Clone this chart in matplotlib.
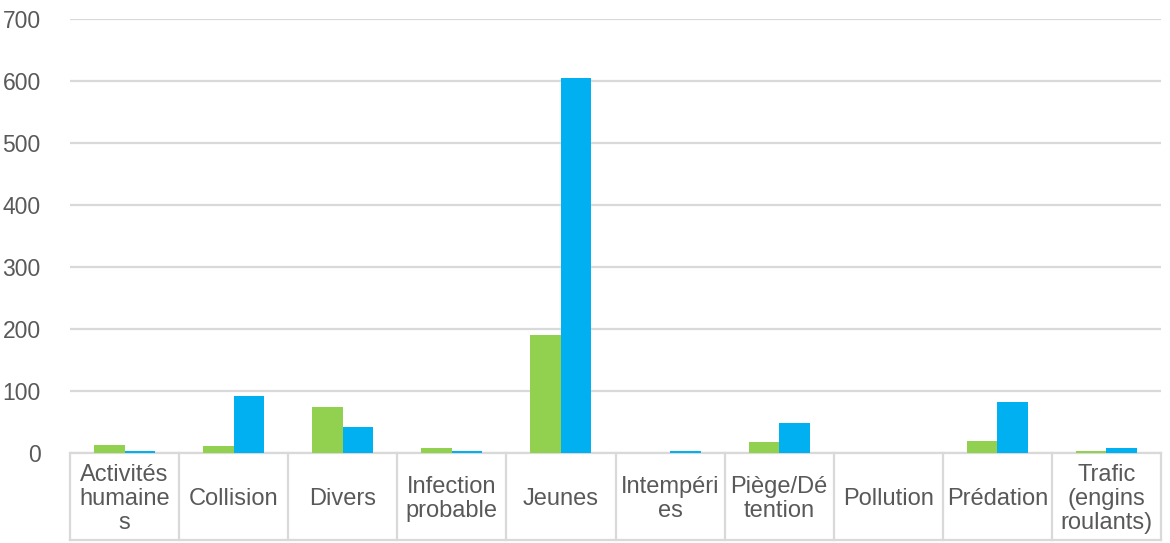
import matplotlib
matplotlib.use("Agg")
from matplotlib import pyplot as plt
import numpy as np

# categories as broken in the original chart
categories = [
    "Activités\nhumaine\ns",
    "Collision",
    "Divers",
    "Infection\nprobable",
    "Jeunes",
    "Intempéri\nes",
    "Piège/Dé\ntention",
    "Pollution",
    "Prédation",
    "Trafic\n(engins\nroulants)",
]
green_values = [13, 11, 74, 8, 190, 0, 18, 0, 20, 3]
blue_values = [3, 92, 42, 4, 605, 3, 49, 0, 83, 8]
y_ticks = [0, 100, 200, 300, 400, 500, 600, 700]

GREEN = "#92D050"
BLUE = "#00B0F0"
GRID = "#D9D9D9"
TEXT = "#595959"

plt.rcParams["font.family"] = ["Liberation Sans", "DejaVu Sans"]

W, H = 1170, 543
fig = plt.figure(figsize=(W / 100, H / 100), dpi=100)
left, right, top, bottom = 70, 1161, 19, 453
ax = fig.add_axes([left / W, 1 - bottom / H, (right - left) / W, (bottom - top) / H])

x = np.arange(len(categories)) + 0.5
bw = 0.28
ax.bar(x - bw / 2, green_values, width=bw, color=GREEN, zorder=3)
ax.bar(x + bw / 2, blue_values, width=bw, color=BLUE, zorder=3)

ax.set_xlim(0, len(categories))
ax.set_ylim(0, 700)
ax.set_yticks(y_ticks)
ax.set_yticklabels([str(v) for v in y_ticks], fontsize=16.5, color=TEXT)
ax.tick_params(axis="y", length=0, pad=21)
ax.set_xticks([])
ax.grid(axis="y", color=GRID, linewidth=1.6, zorder=0)
for side in ["top", "right", "left"]:
    ax.spines[side].set_visible(False)
ax.spines["bottom"].set_color(GRID)
ax.spines["bottom"].set_linewidth(1.6)

# category box below the axis
tr = ax.get_xaxis_transform()
box_bottom = -(540 - bottom) / (bottom - top)
for i in range(len(categories) + 1):
    ax.plot([i, i], [0, box_bottom], color=GRID, linewidth=1.6,
            transform=tr, clip_on=False)
ax.plot([0, len(categories)], [box_bottom, box_bottom], color=GRID,
        linewidth=1.6, transform=tr, clip_on=False)

for xi, label in zip(x, categories):
    ax.text(xi, box_bottom / 2 - 0.005, label, transform=tr, ha="center",
            va="center", fontsize=17, color=TEXT, linespacing=1.12)

fig.savefig("out.png", dpi=100)
